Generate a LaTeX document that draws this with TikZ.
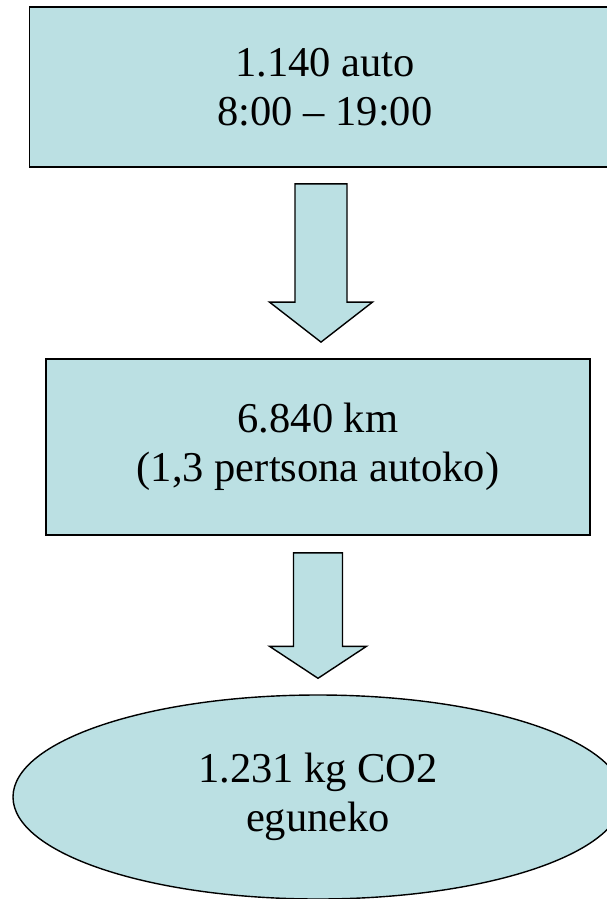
\documentclass[tikz,border=0pt]{standalone}
\usepackage{fontspec}
\setmainfont{Liberation Serif}
\usetikzlibrary{calc}
\usetikzlibrary{shapes.geometric}
\definecolor{boxfill}{RGB}{187,224,227}
\tikzset{
flowbox/.style={draw, line width=1.8pt, fill=boxfill, align=center, inner sep=0pt,
  font=\fontsize{42.5}{49}\selectfont},
blockarrow/.style={draw, line width=1.4pt, fill=boxfill, line join=miter},
}

\begin{document}
\begin{tikzpicture}[x=1pt, y=-1pt]
    \useasboundingbox (0,0) rectangle (607,899);
    \clip (0,0) rectangle (607,899);

                \node[flowbox, rectangle, minimum width=591pt, minimum height=160pt] (cars) at (325,87) {1.140 auto\\8:00 – 19:00};
                \node[flowbox, rectangle, minimum width=544pt, minimum height=176pt] (dist) at (318,447) {6.840 km\\(1,3 pertsona autoko)};
                \node[flowbox, ellipse, line width=1.4pt, minimum width=610pt, minimum height=204pt] (co2) at (318,797) {1.231 kg CO2\\eguneko};

                \coordinate (a1) at ($(cars.south)+(-4,16)$);
                \coordinate (t1) at ($(dist.north)+(3,-16)$);
                \coordinate (a2) at ($(dist.south)+(0,17)$);
                \coordinate (t2) at ($(co2.north)+(0,-16)$);

                \draw[blockarrow] ($(a1)+(-26,0)$) -- ($(a1)+(26,0)$) -- ($(t1)+(26,-40)$) -- ($(t1)+(51.5,-40)$)
                    -- (t1) -- ($(t1)+(-51.5,-40)$) -- ($(t1)+(-26,-40)$) -- cycle;
                \draw[blockarrow] ($(a2)+(-24.5,0)$) -- ($(a2)+(24.5,0)$) -- ($(t2)+(24.5,-32)$) -- ($(t2)+(48.5,-32)$)
                    -- (t2) -- ($(t2)+(-48.5,-32)$) -- ($(t2)+(-24.5,-32)$) -- cycle;

            \end{tikzpicture}
\end{document}
